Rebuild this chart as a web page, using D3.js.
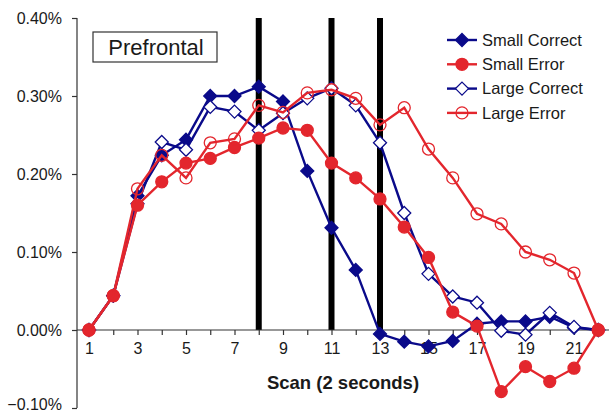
<!DOCTYPE html>
<html lang="en">
<head>
    <meta charset="UTF-8">
    <title>Prefrontal</title>
    <script src="https://cdn.jsdelivr.net/npm/d3@7"></script>
    <style>
        body { margin: 0; background: #fff; }
        svg text { font-family: "Liberation Sans", Arial, sans-serif; fill: #1a1a1a; }
        .axis path, .axis line { stroke: #333; stroke-width: 1.2; }
        .axis text { font-size: 16px; }
    </style>
</head>
<body>
<svg id="main" width="611" height="414"></svg>
<script>

    // scan numbers 1..22
    var scans = d3.range(1, 23);
    var xTickLabels = [1, 3, 5, 7, 9, 11, 13, 15, 17, 19, 21];
    var yTicks = [-0.10, 0.00, 0.10, 0.20, 0.30, 0.40];
    var markerScans = [8, 11, 13];

    // percent signal change
    var smallCorrect = [0, 0.044, 0.172, 0.224, 0.244, 0.300, 0.300, 0.312, 0.293, 0.204, 0.131,
        0.077, -0.005, -0.015, -0.021, -0.014, 0.008, 0.011, 0.011, 0.017, 0.003, 0];
    var smallError = [0, 0.044, 0.160, 0.190, 0.214, 0.220, 0.234, 0.246, 0.259, 0.256, 0.214,
        0.195, 0.168, 0.132, 0.093, 0.023, 0.005, -0.079, -0.047, -0.066, -0.049, 0];
    var largeCorrect = [0, 0.044, 0.162, 0.241, 0.231, 0.286, 0.280, 0.256, 0.278, 0.297, 0.310,
        0.288, 0.240, 0.150, 0.072, 0.043, 0.035, -0.001, -0.006, 0.022, 0.004, 0];
    var largeError = [0, 0.044, 0.181, 0.224, 0.195, 0.240, 0.245, 0.288, 0.279, 0.304, 0.308,
        0.297, 0.263, 0.285, 0.232, 0.195, 0.149, 0.136, 0.100, 0.090, 0.073, 0];

    var navy = "#0a0a8a",
        red = "#e3262d";

    var series = [
        {name: "Small Correct", values: smallCorrect, color: navy, shape: "diamond", filled: true},
        {name: "Large Correct", values: largeCorrect, color: navy, shape: "diamond", filled: false},
        {name: "Small Error", values: smallError, color: red, shape: "circle", filled: true},
        {name: "Large Error", values: largeError, color: red, shape: "circle", filled: false}
    ];
    var legendOrder = ["Small Correct", "Small Error", "Large Correct", "Large Error"];

    var svg = d3.select("#main");

    var x = d3.scaleLinear().domain([1, 21]).range([89, 574]);
    var y = d3.scaleLinear().domain([-0.10, 0.40]).range([408, 18]);
    var axisLeftX = 77;

    // vertical event markers
    svg.selectAll(".marker-bar")
        .data(markerScans)
        .enter().append("rect")
        .attr("class", "marker-bar")
        .attr("x", function(d) { return x(d) - 3; })
        .attr("y", y(0.40))
        .attr("width", 6)
        .attr("height", y(0) - y(0.40))
        .attr("fill", "#000");

    // y axis
    var yAxis = svg.append("g")
        .attr("class", "axis")
        .attr("transform", "translate(" + axisLeftX + ",0)")
        .call(d3.axisLeft(y).tickValues(yTicks).tickSize(5).tickPadding(10)
            .tickFormat(function(d) { return d3.format(".2f")(d) + "%"; }));
    yAxis.select(".domain").attr("d", "M0," + y(0.40) + "V" + y(-0.10));
    yAxis.selectAll(".tick").filter(function(d) { return d < 0; })
        .select("text").attr("dy", "0.1em");

    // x axis at zero
    var xAxis = svg.append("g")
        .attr("class", "axis")
        .attr("transform", "translate(0," + y(0) + ")")
        .call(d3.axisBottom(x).tickValues(d3.range(1, 23)).tickSize(5).tickPadding(8)
            .tickFormat(function(d) { return xTickLabels.indexOf(d) >= 0 ? d : ""; }));
    xAxis.select(".domain").attr("d", "M" + axisLeftX + ",0H609");

    svg.append("text")
        .attr("x", 343)
        .attr("y", 389)
        .attr("text-anchor", "middle")
        .style("font-size", "18.5px")
        .style("font-weight", "bold")
        .text("Scan (2 seconds)");

    // title box
    svg.append("rect")
        .attr("x", 93).attr("y", 32)
        .attr("width", 124).attr("height", 30)
        .attr("fill", "#fff")
        .attr("stroke", "#333")
        .attr("stroke-width", 1.2);
    svg.append("text")
        .attr("x", 156).attr("y", 55)
        .attr("text-anchor", "middle")
        .style("font-size", "22px")
        .text("Prefrontal");

    var line = d3.line()
        .x(function(d, i) { return x(scans[i]); })
        .y(function(d) { return y(d); });

    var diamondPath = "M0,-6.5L6.5,0L0,6.5L-6.5,0Z";

    function drawMarker(sel, s) {
        if (s.shape === "diamond") {
            sel.append("path")
                .attr("d", diamondPath)
                .attr("fill", s.filled ? s.color : "#fff")
                .attr("stroke", s.color)
                .attr("stroke-width", 1.3);
        } else {
            sel.append("circle")
                .attr("r", 6)
                .attr("fill", s.filled ? s.color : "none")
                .attr("stroke", s.color)
                .attr("stroke-width", 1.3);
        }
    }

    series.forEach(function(s) {
        var g = svg.append("g").attr("class", "serie");
        g.append("path")
            .datum(s.values)
            .attr("d", line)
            .attr("fill", "none")
            .attr("stroke", s.color)
            .attr("stroke-width", 2.4);
        g.selectAll(".pt")
            .data(s.values)
            .enter().append("g")
            .attr("class", "pt")
            .attr("transform", function(d, i) { return "translate(" + x(scans[i]) + "," + y(d) + ")"; })
            .each(function() { drawMarker(d3.select(this), s); });
    });

    // legend
    var legend = svg.selectAll(".legend")
        .data(legendOrder)
        .enter().append("g")
        .attr("class", "legend")
        .attr("transform", function(d, i) { return "translate(447," + (40 + i * 24.3) + ")"; });

    legend.append("line")
        .attr("x1", 0).attr("x2", 30)
        .attr("stroke", function(d) { return series.find(function(s) { return s.name === d; }).color; })
        .attr("stroke-width", 2.4);
    legend.append("g")
        .attr("transform", "translate(15,0)")
        .each(function(d) { drawMarker(d3.select(this), series.find(function(s) { return s.name === d; })); });
    legend.append("text")
        .attr("x", 35)
        .attr("dy", "0.35em")
        .style("font-size", "16.5px")
        .text(function(d) { return d; });

</script>
</body>
</html>
